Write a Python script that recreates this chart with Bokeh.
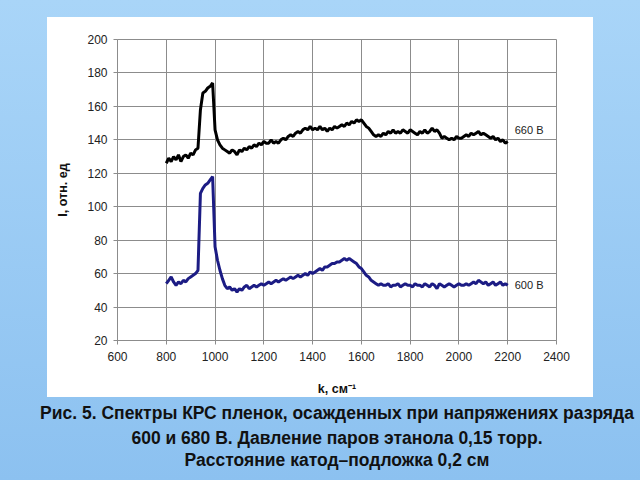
from bokeh.plotting import figure
from bokeh.models import Range1d, Label, FixedTicker, Title
from bokeh.embed import file_html
from bokeh.resources import INLINE

# ---- data ----
k = list(range(800, 2201, 10))

i660 = [
    126, 129, 127, 130, 128, 131, 127, 130, 131, 129,   # 800-890
    132, 131, 134, 135, 158, 168, 169, 171, 172, 174,   # 900-990
    146, 140, 137, 135, 134, 133, 132, 134, 133, 131,   # 1000-1090
    134, 133, 135, 134, 136, 135, 137, 136, 138, 137,   # 1100-1190
    139, 138, 138, 140, 138, 139, 138, 140, 141, 140,   # 1200-1290
    142, 143, 142, 144, 145, 144, 146, 147, 146, 148,   # 1300-1390
    146, 147, 146, 148, 146, 147, 145, 147, 146, 148,   # 1400-1490
    147, 148, 149, 148, 150, 149, 151, 150, 152, 151,   # 1500-1590
    152, 150, 148, 147, 145, 143, 142, 143, 142, 144,   # 1600-1690
    143, 145, 144, 146, 144, 145, 144, 146, 145, 144,   # 1700-1790
    146, 145, 144, 143, 145, 144, 146, 144, 145, 147,   # 1800-1890
    145, 146, 144, 141, 142, 141, 140, 141, 140, 142,   # 1900-1990
    141, 141, 142, 143, 142, 144, 143, 144, 145, 143,   # 2000-2090
    144, 143, 142, 141, 142, 140, 141, 139, 140, 138,   # 2100-2190
    139,                                                # 2200
]

i600 = [
    54, 56, 58, 55, 53, 55, 54, 56, 55, 57,             # 800-890
    58, 59, 60, 62, 108, 111, 113, 114, 116, 118,       # 900-990
    76, 68, 62, 57, 53, 51, 52, 50, 51, 49,             # 1000-1090
    51, 50, 52, 53, 51, 52, 53, 52, 53, 54,             # 1100-1190
    53, 54, 55, 54, 55, 56, 55, 56, 57, 56,             # 1200-1290
    57, 58, 57, 58, 59, 58, 59, 60, 59, 61,             # 1300-1390
    60, 61, 62, 63, 62, 64, 64, 65, 66, 66,             # 1400-1490
    67, 67, 68, 69, 68, 69, 68, 67, 66, 64,             # 1500-1590
    63, 61, 59, 58, 56, 55, 54, 53, 54, 53,             # 1600-1690
    53, 54, 52, 53, 53, 54, 52, 53, 54, 53,             # 1700-1790
    53, 52, 54, 53, 53, 52, 54, 53, 52, 54,             # 1800-1890
    53, 51, 54, 53, 52, 53, 54, 53, 52, 53,             # 1900-1990
    54, 53, 53, 54, 53, 54, 55, 54, 56, 55,             # 2000-2090
    54, 55, 53, 54, 55, 53, 54, 55, 53, 54,             # 2100-2190
    53,                                                 # 2200
]

x_ticks = [600, 800, 1000, 1200, 1400, 1600, 1800, 2000, 2200, 2400]
y_ticks = [20, 40, 60, 80, 100, 120, 140, 160, 180, 200]
series_labels = ["660 В", "600 В"]
label_y = [146, 53]
caption_lines = [
    "Рис. 5. Спектры КРС пленок, осажденных при напряжениях разряда",
    "600 и 680 В. Давление паров этанола 0,15 торр.",
    "Расстояние катод–подложка 0,2 см",
]

FONT = "Liberation Sans"
GRID = "#8c8c8c"

p = figure(width=640, height=480, output_backend="svg", toolbar_location=None,
           x_range=Range1d(600, 2400), y_range=Range1d(20, 200),
           min_border_left=117, min_border_right=84, min_border_top=39, min_border_bottom=140,
           background_fill_color="white", border_fill_color=None,
           outline_line_color=GRID, outline_line_width=1)
# white slide panel on a light-blue gradient (page background, not data)
p.styles = {
    "background": "linear-gradient(#ffffff, #ffffff) 47px 17px / 546px 380px no-repeat, "
                  "linear-gradient(to bottom, #a9d5f8, #8cc1f0)"
}

p.xaxis.ticker = FixedTicker(ticks=x_ticks)
p.yaxis.ticker = FixedTicker(ticks=y_ticks)
for ax in (p.xaxis[0], p.yaxis[0]):
    ax.axis_line_color = GRID
    ax.major_tick_line_color = GRID
    ax.minor_tick_line_color = None
    ax.major_tick_in = 0
    ax.major_tick_out = 4
    ax.major_label_text_font = FONT
    ax.major_label_text_font_size = "12px"
    ax.major_label_text_color = "#222222"
    ax.axis_label_text_font = FONT
    ax.axis_label_text_font_size = "12.5px"
    ax.axis_label_text_font_style = "bold"
    ax.axis_label_text_color = "#111111"
p.xaxis.axis_label = "k, см⁻¹"
p.yaxis.axis_label = "I, отн. ед"
p.xaxis.major_label_standoff = 7
p.xaxis.axis_label_standoff = 18
p.yaxis.major_label_standoff = 6
p.yaxis.axis_label_standoff = 14

p.xgrid.grid_line_color = GRID
p.ygrid.grid_line_color = GRID
p.xgrid.grid_line_width = 1
p.ygrid.grid_line_width = 1

p.line(k, i660, line_color="black", line_width=3)
p.line(k, i600, line_color="#1c1c84", line_width=3)

for txt, yy in zip(series_labels, label_y):
    p.add_layout(Label(x=k[-1], y=yy, text=txt, x_offset=7, text_baseline="middle",
                       text_font=FONT, text_font_size="11px", text_color="#222222"))

for txt, so in zip(caption_lines, [6, 0, 0]):
    p.add_layout(Title(text=txt, align="center", vertical_align="middle", standoff=so,
                       text_font=FONT, text_font_size="17.5px", text_font_style="bold",
                       text_color="#111111"), "below")

open("out.html", "w").write(file_html(p, INLINE))
